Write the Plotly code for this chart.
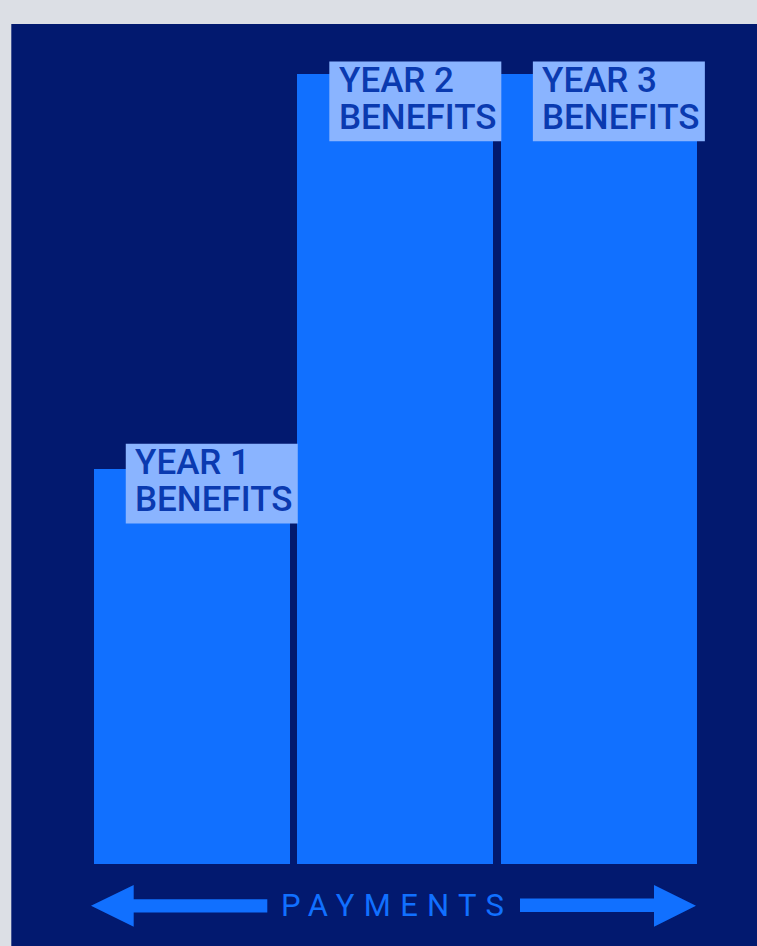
import plotly.graph_objects as go

# ---- data ----
categories = ["YEAR 1", "YEAR 2", "YEAR 3"]
values = [1, 2, 2]
label_line2 = ["BENEFITS", "BENEFITS", "BENEFITS"]
axis_title = "PAYMENTS"

# ---- style ----
W, H = 757, 946
ML, MR, MT, MB = 90, 36, 34, 82
GRAY = "#dcdfe5"
NAVY = "#02196f"
BAR = "#1170ff"
BOX = "#8ab4ff"
TXT = "#0a3ab0"
FONT = "Roboto"
label_dy = [25, 12, 12]  # box top above bar top (px)

PW = W - ML - MR
PH = H - MT - MB


def px(xp):
    return (xp - ML) / PW


def py(yp):
    return (H - MB - yp) / PH


fig = go.Figure()
fig.add_trace(go.Bar(
    x=list(range(len(categories))), y=values, width=0.963,
    marker=dict(color=BAR, line=dict(width=0)), hoverinfo="skip",
))

shapes = [
    dict(type="rect", xref="paper", yref="paper", layer="below",
         x0=px(11.3), x1=px(W + 5), y0=py(H + 5), y1=py(24),
         fillcolor=NAVY, line=dict(width=0)),
]
annotations = []
for i, (cat, v) in enumerate(zip(categories, values)):
    dy = label_dy[i]
    shapes.append(dict(type="rect", xref="x", yref="y", xsizemode="pixel", ysizemode="pixel",
                       xanchor=i, yanchor=v, x0=-66, x1=106, y0=dy, y1=dy - 79.7,
                       fillcolor=BOX, line=dict(width=0), layer="above"))
    for txt, off in ((cat, 19), (label_line2[i], 55.7)):
        annotations.append(dict(xref="x", yref="y", x=i, y=v, xanchor="left", yanchor="middle",
                                xshift=-57.5, yshift=dy - off, text=txt, showarrow=False,
                                height=31, borderpad=0,
                                font=dict(family=FONT, size=35, weight=500, color=TXT)))

# arrows
def poly(pts):
    return "M " + " L ".join(f"{px(a):.5f},{py(b):.5f}" for a, b in pts) + " Z"

left_arrow = [(91, 905.7), (133.7, 885), (133.7, 899.2), (267.3, 899.2), (267.3, 912.6),
              (133.7, 912.6), (133.7, 926.7)]
right_arrow = [(696, 905.7), (654, 885), (654, 898.6), (520, 898.6), (520, 912),
               (654, 912), (654, 926.7)]
for pts in (left_arrow, right_arrow):
    shapes.append(dict(type="path", xref="paper", yref="paper", path=poly(pts),
                       fillcolor=BAR, line=dict(width=0), layer="above"))

annotations.append(dict(xref="paper", yref="paper", x=px(393.3 + 3.5), y=py(905), xanchor="center",
                        yanchor="middle", showarrow=False,
                        text=f'<span style="letter-spacing:9.3px">{axis_title}</span>',
                        font=dict(family=FONT, size=31, color=BAR)))

fig.update_layout(
    width=W, height=H, margin=dict(l=ML, r=MR, t=MT, b=MB, autoexpand=False),
    paper_bgcolor=GRAY, plot_bgcolor=NAVY, showlegend=False,
    xaxis=dict(visible=False, range=[-0.5, 2.6], fixedrange=True),
    yaxis=dict(visible=False, range=[0, 2.1], fixedrange=True),
    shapes=shapes, annotations=annotations, bargap=0,
)
fig.write_html(
    "out.html", config={"displayModeBar": False},
    post_script="document.body.style.margin='0';document.body.style.overflow='hidden';"
                "document.body.style.background='" + GRAY + "';",
)
